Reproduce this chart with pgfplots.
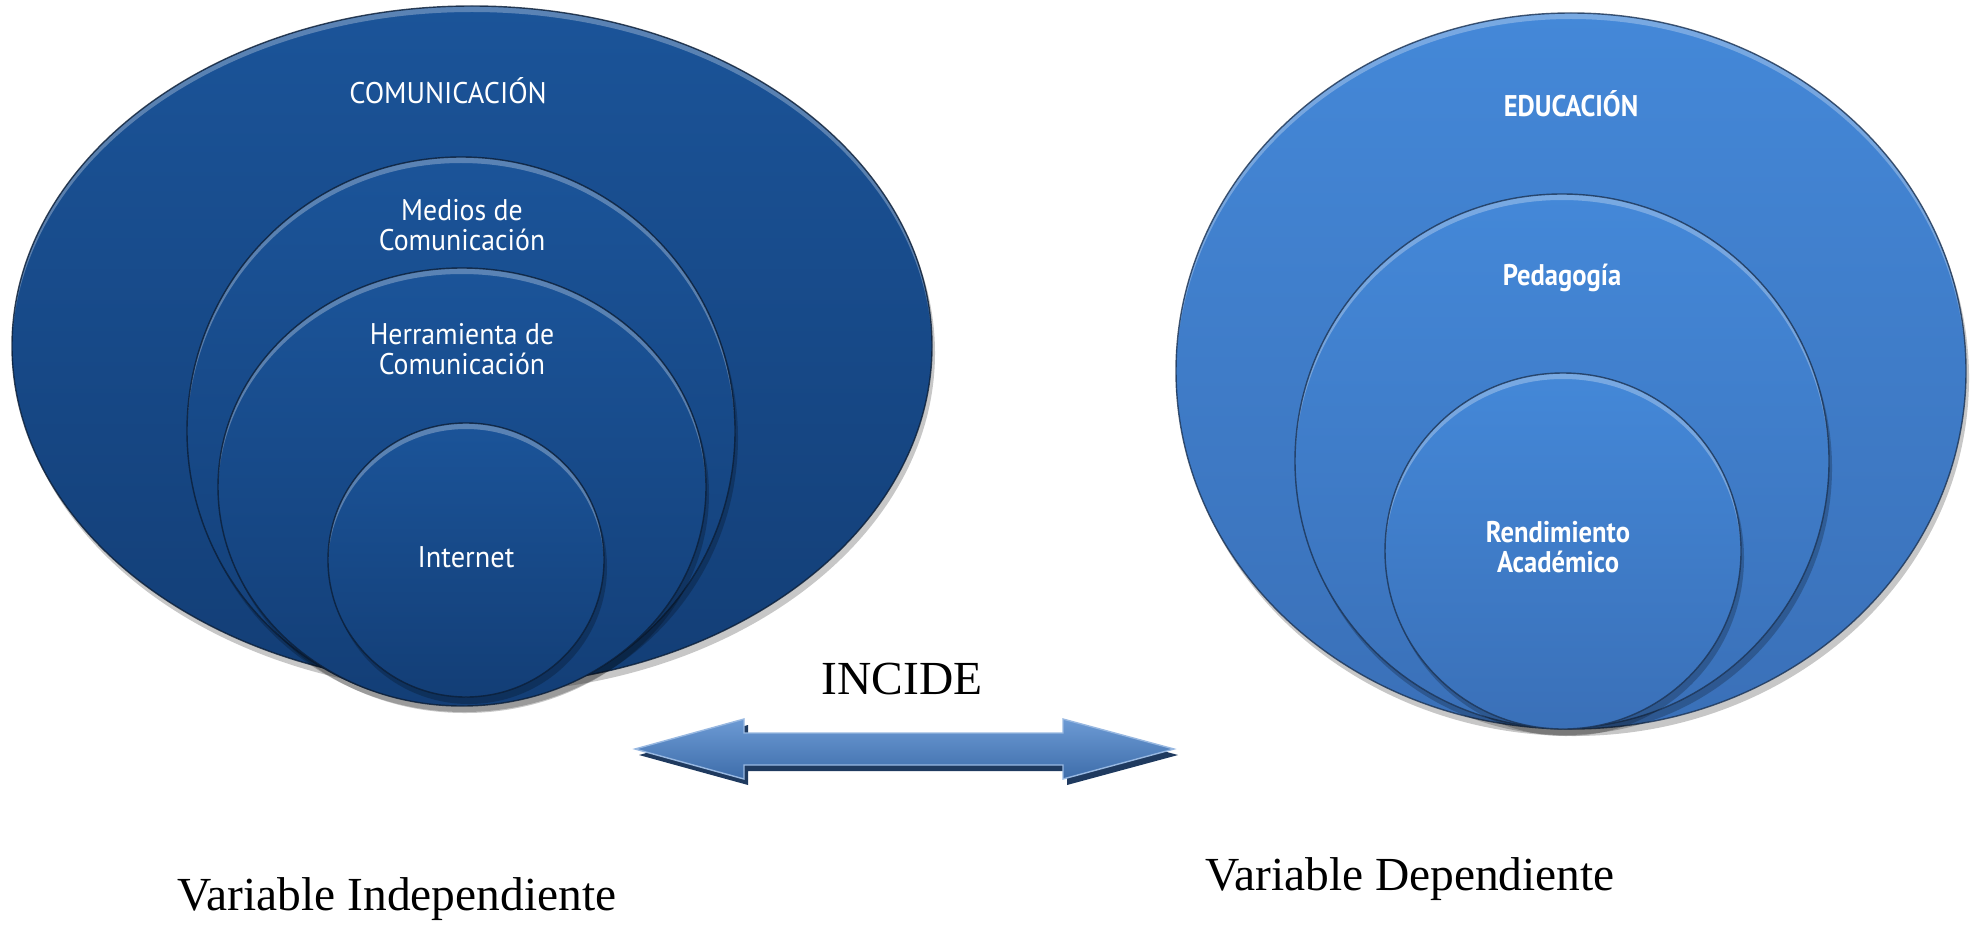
\documentclass[border=0pt]{standalone}
\usepackage{fontspec}
\setmainfont{Liberation Serif}
\newfontfamily\lab{PT Sans}
\usepackage{pgfplots}
\pgfplotsset{compat=1.18}

\definecolor{ltop}{RGB}{27,84,153}
\definecolor{lbot}{RGB}{19,62,118}
\definecolor{rtop}{RGB}{68,136,216}
\definecolor{rbot}{RGB}{58,112,184}
\definecolor{atop}{RGB}{108,154,212}
\definecolor{abot}{RGB}{62,109,170}
\definecolor{ashad}{RGB}{31,58,95}

% one shaded bubble: x, y, x radius, y radius, top colour, bottom colour
\newcommand{\bubble}[6]{%
  \fill[black, opacity=0.22] (axis cs:#1+3,#2-7) ellipse [x radius=#3, y radius=#4];
  \shade[top color=#5, bottom color=#6] (axis cs:#1,#2) ellipse [x radius=#3, y radius=#4];
  \begin{scope}
    \clip (axis cs:#1,#2) ellipse [x radius=#3, y radius=#4];
    \fill[white, opacity=0.28, even odd rule] (axis cs:#1,#2) ellipse [x radius=#3, y radius=#4]
      (axis cs:#1,#2-6) ellipse [x radius=#3, y radius=#4];
  \end{scope}
  \draw[#6!45!black, opacity=0.8, line width=0.4pt] (axis cs:#1,#2) ellipse [x radius=#3, y radius=#4];
}

\begin{document}
\begin{tikzpicture}
\begin{axis}[
  width=19.75cm, height=9.29cm, scale only axis,
  xmin=0, xmax=1975, ymin=0, ymax=929,
  axis lines=none, clip=false]
\path (axis cs:0,0) rectangle (axis cs:1975,929);

% left group: Comunicacion
\bubble{472}{583}{460}{340}{ltop}{lbot}
\bubble{461}{498}{274}{274}{ltop}{lbot}
\bubble{462}{442}{244}{219}{ltop}{lbot}
\bubble{466}{369}{138}{137}{ltop}{lbot}

% right group: Educacion
\bubble{1571}{558}{395}{358}{rtop}{rbot}
\bubble{1562}{468}{267}{267}{rtop}{rbot}
\bubble{1563}{378}{178}{178}{rtop}{rbot}

% double arrow
\addplot[draw=none, fill=ashad] coordinates {
  (639,174) (748,144) (748,158) (1067,158) (1067,144) (1178,174)
  (1067,204) (1067,190) (748,190) (748,204)} -- cycle;
\addplot[draw=atop!70!white, line width=0.4pt, top color=atop, bottom color=abot] coordinates {
  (635,180) (744,210) (744,196) (1063,196) (1063,210) (1174,180)
  (1063,150) (1063,164) (744,164) (744,150)} -- cycle;

% labels
\node[white, xscale=0.95, font=\lab\fontsize{8.5}{10}\selectfont] at (axis cs:448,838) {COMUNICACIÓN};
\node[white, xscale=0.93, font=\lab\fontsize{8.5}{8.6}\selectfont, align=center] at (axis cs:462,704) {Medios de\\Comunicación};
\node[white, xscale=0.93, font=\lab\fontsize{8.5}{8.6}\selectfont, align=center] at (axis cs:462,580) {Herramienta de\\Comunicación};
\node[white, xscale=0.95, font=\lab\fontsize{8.5}{10}\selectfont] at (axis cs:466,372) {Internet};
\node[white, xscale=0.89, font=\lab\bfseries\fontsize{8.5}{10}\selectfont] at (axis cs:1571,825) {EDUCACIÓN};
\node[white, xscale=0.89, font=\lab\bfseries\fontsize{8.5}{10}\selectfont] at (axis cs:1562,651) {Pedagogía};
\node[white, xscale=0.89, font=\lab\bfseries\fontsize{8.5}{8.6}\selectfont, align=center] at (axis cs:1558,382) {Rendimiento\\Académico};

\node[anchor=base, font=\fontsize{13.5}{16}\selectfont] at (axis cs:902,235) {INCIDE};
\node[anchor=base, font=\fontsize{13.5}{16}\selectfont] at (axis cs:397,19) {Variable Independiente};
\node[anchor=base, font=\fontsize{13.5}{16}\selectfont] at (axis cs:1410,39) {Variable Dependiente};
\end{axis}
\end{tikzpicture}
\end{document}
